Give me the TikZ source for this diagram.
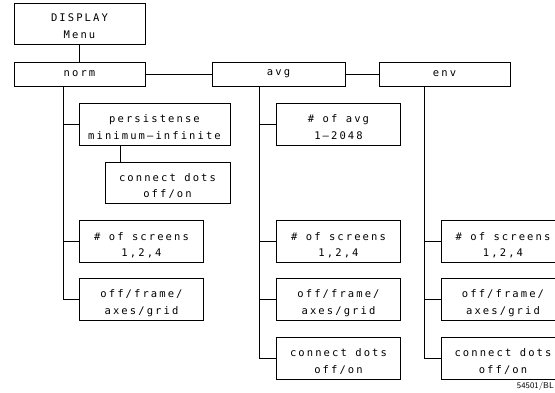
\documentclass[tikz,border=0pt]{standalone}
\usepackage{fontspec}
\newfontfamily\plotfont[LetterSpace=20]{DejaVu Sans Mono}
\tikzset{
  menubox/.style={draw, line width=0.8pt, minimum width=131pt, minimum height=24pt, inner sep=0pt},
  itembox/.style={draw, line width=0.8pt, minimum width=124pt, minimum height=42pt, inner sep=0pt,
    align=center, text height=32pt, text depth=1pt},
  link/.style={line width=0.8pt}
}
\begin{document}
\begin{tikzpicture}[x=1pt, y=-1pt, font=\fontsize{10.5}{17}\plotfont]
    \useasboundingbox (0,0) rectangle (555,393);

    % Top of the menu
    \node[menubox, minimum height=41pt, align=center, text height=31pt, text depth=1pt] (menu) at (79.5,23.5) {DISPLAY\\Menu};

    % Display modes
    \node[menubox] (norm) at (79.5,74) {norm};
    \node[menubox, minimum width=133pt] (avg) at (278.5,74) {avg};
    \node[menubox] (env) at (444.5,74) {env};

    \draw[link] (menu) -- (menu |- norm.north);
    \draw[link] (norm) -- (avg);
    \draw[link] (avg) -- (env);

    % norm column
    \node[itembox, minimum width=151pt] (persist) at (154.5,124) {persistense\\minimum–infinite};
    \node[itembox, minimum width=125pt, minimum height=41pt] (normdots) at (167.5,182.5) {connect dots\\off/on};
    \node[itembox] (normscr) at (141.5,241.5) {\# of screens\\1,2,4};
    \node[itembox] (normgrid) at (141.5,299) {off/frame/\\axes/grid};

    \coordinate (normtop) at (63,86);
    \draw[link] (normtop) |- (normgrid.west);
    \draw[link] (normtop |- persist.west) -- (persist.west);
    \draw[link] (normtop |- normscr.west) -- (normscr.west);
    \draw[link] ([xshift=-34pt]persist.south) -- ([xshift=-34pt]persist.south |- normdots.north);

    % avg column
    \node[itembox] (avgnum) at (338.5,124) {\# of avg\\1–2048};
    \node[itembox] (avgscr) at (338.5,241.5) {\# of screens\\1,2,4};
    \node[itembox] (avggrid) at (338.5,299) {off/frame/\\axes/grid};
    \node[itembox] (avgdots) at (338.5,358) {connect dots\\off/on};

    \coordinate (avgtop) at (259,86);
    \draw[link] (avgtop) |- (avgdots.west);
    \draw[link] (avgtop |- avgnum.west) -- (avgnum.west);
    \draw[link] (avgtop |- avgscr.west) -- (avgscr.west);
    \draw[link] (avgtop |- avggrid.west) -- (avggrid.west);

    % env column
    \node[itembox] (envscr) at (503,241.5) {\# of screens\\1,2,4};
    \node[itembox] (envgrid) at (503,299) {off/frame/\\axes/grid};
    \node[itembox] (envdots) at (503,358) {connect dots\\off/on};

    \coordinate (envtop) at (424,86);
    \draw[link] (envtop) |- (envdots.west);
    \draw[link] (envtop |- envscr.west) -- (envscr.west);
    \draw[link] (envtop |- envgrid.west) -- (envgrid.west);

    % figure number
    \node[font=\fontsize{8.5}{9}\selectfont\sffamily, anchor=east, inner sep=1pt] (fignum) at (555,386.5) {54501/BL};
\end{tikzpicture}
\end{document}
